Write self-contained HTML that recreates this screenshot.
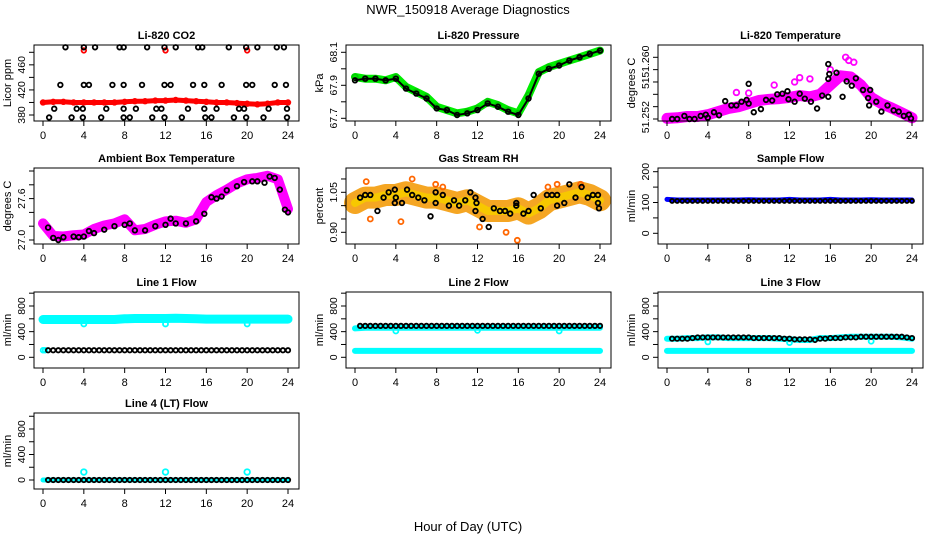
<!DOCTYPE html>
<html><head><meta charset="utf-8">
<style>
html,body{margin:0;padding:0;background:#fff;}
svg{display:block;font-family:"Liberation Sans",sans-serif;}
</style></head>
<body>
<svg id="chart" width="936" height="540" viewBox="0 0 936 540" xmlns="http://www.w3.org/2000/svg">
<rect width="936" height="540" fill="#fff"/>
<text x="468" y="14" text-anchor="middle" font-size="13">NWR_150918  Average Diagnostics</text>
<text x="468" y="531" text-anchor="middle" font-size="13">Hour of Day (UTC)</text>
</svg>
<script>
// ---------- data ----------
const hours = [0,1,2,3,4,5,6,7,8,9,10,11,12,13,14,15,16,17,18,19,20,21,22,23,24];
const halfHours = [0.5,1,1.5,2,2.5,3,3.5,4,4.5,5,5.5,6,6.5,7,7.5,8,8.5,9,9.5,10,10.5,11,11.5,12,12.5,13,13.5,14,14.5,15,15.5,16,16.5,17,17.5,18,18.5,19,19.5,20,20.5,21,21.5,22,22.5,23,23.5,24];
const xTicks = [0,4,8,12,16,20,24];

// CO2
const co2BlackT = [2.2,4,5.1,7.5,7.9,10.2,11.9,13,15.2,15.6,18.2,19.9,21,22.9,23.6, 1.7,4,4.5,6.8,7.9,9.7,11.9,12.5,14.7,15.8,17.5,19.9,20.5,22.7,23.8, 1.1,3.3,3.9,6.2,7.9,9.1,11.1,11.6,14.2,15.8,17,19.2,19.7,22.1,23.9, 0.6,2.8,3.9,5.7,7.9,8.5,10.7,11.9,13.6,15.9,16.5,18.7,19.9,21.6,23.9];
const co2BlackV = [488,488,488,488,488,488,488,488,488,488,488,488,488,488,488, 428,428,428,428,428,428,428,428,428,428,428,428,428,428,428, 390,390,390,390,390,390,390,390,390,390,390,390,390,390,390, 376,376,376,376,376,376,376,376,376,376,376,376,376,376,376];
const co2Red = [400,401,401,400,400,400,400,400,401,402,402,403,403,404,403,402,401,400,400,399,398,397,398,400,400];
const co2RedOutT = [4,12,20];
const co2RedOutV = [483,483,483];

// Pressure
const presBlack = [67.93,67.94,67.94,67.93,67.94,67.88,67.85,67.82,67.76,67.75,67.72,67.73,67.75,67.79,67.77,67.74,67.72,67.82,67.97,68.00,68.02,68.05,68.07,68.09,68.11];
const presGreen = [67.95,67.94,67.94,67.93,67.95,67.89,67.86,67.83,67.77,67.75,67.73,67.74,67.76,67.80,67.78,67.75,67.73,67.84,67.98,68.01,68.03,68.05,68.07,68.09,68.11];

// Li-820 temperature
const tempBlackT = [0.5,1,1.7,2.2,2.7,3.3,3.8,4,4.6,5.1,5.7,6.3,6.8,7.3,7.8,8,8,8.5,9.2,9.7,10.3,10.8,11.3,11.8,11.9,12.5,13,13.5,14.1,14.7,15.2,15.8,15.8,15.8,15.9,16.6,17.2,17.6,18.1,18.5,19.2,19.7,19.8,19.9,20.5,21,21.6,22.2,22.7,23.2,23.7,23.9];
const tempBlackV = [51.2520,51.2520,51.2525,51.2520,51.2520,51.2525,51.2527,51.2522,51.2531,51.2526,51.2549,51.2542,51.2542,51.2548,51.2551,51.2577,51.2545,51.2531,51.2536,51.2551,51.2550,51.2560,51.2561,51.2565,51.2552,51.2548,51.2561,51.2553,51.2548,51.2537,51.2558,51.2556,51.2609,51.2585,51.2593,51.2595,51.2556,51.2581,51.2574,51.2586,51.2567,51.2554,51.2542,51.2567,51.2548,51.2532,51.2542,51.2534,51.2532,51.2525,51.2527,51.2521];
const tempMag = [51.2521,51.2522,51.2524,51.2524,51.2527,51.2532,51.2537,51.2540,51.2545,51.2550,51.2552,51.2553,51.2555,51.2558,51.2556,51.2560,51.2575,51.2590,51.2588,51.2575,51.2555,51.2545,51.2538,51.2530,51.2522];
const tempMagOutT = [6.8,8,13,14,16,17.5,17.8,18.3,12.5,10.5];
const tempMagOutV = [51.2563,51.2562,51.2587,51.2585,51.2600,51.2620,51.2615,51.2612,51.2580,51.2575];

// Ambient box temperature
const ambT = [0.5,1,1.5,2,3,3.5,4,4.5,5,6,7,8,8.5,9,10,11,12,12.5,13,14,15,15.8,16.5,17,17.5,18,19,19.7,20.5,21,21.7,22.2,22.7,23.2,23.7,24];
const ambBlack = [27.18,27.03,27.00,27.04,27.05,27.04,27.05,27.13,27.10,27.15,27.20,27.22,27.24,27.14,27.14,27.20,27.22,27.31,27.24,27.24,27.27,27.38,27.62,27.60,27.63,27.72,27.78,27.84,27.85,27.85,27.83,27.92,27.90,27.73,27.44,27.40];
const ambMag = [27.24,27.06,27.05,27.07,27.08,27.16,27.21,27.24,27.30,27.14,27.16,27.22,27.27,27.28,27.25,27.30,27.55,27.65,27.73,27.82,27.88,27.90,27.93,27.88,27.45];

// Gas stream RH
const rhBlackT = [0.5,1,1.5,2.2,2.8,3.3,3.9,3.9,4,4.6,5.1,5.6,6.2,6.8,7.4,7.9,7.9,8.6,9.2,9.7,10.2,10.8,11.3,11.8,11.8,11.9,12.5,13.1,13.6,14.2,14.7,15.2,15.8,15.8,16.5,17,17.5,18.2,18.8,19.3,19.8,19.8,20.5,21,21.6,22.2,22.8,23.3,23.8,23.8,23.9];
const rhBlackV = [1.03,1.04,1.04,0.98,1.03,1.05,1.06,1.01,1.03,1.01,1.06,1.04,1.03,1.02,0.96,1.05,1.01,1.04,1.00,1.02,1.00,1.02,1.05,1.03,0.98,1.01,0.95,0.92,0.99,0.98,0.98,0.97,1.01,1.00,0.97,0.98,1.04,0.99,1.04,1.04,1.04,1.00,1.01,1.08,1.03,1.07,1.03,1.04,1.04,1.01,0.99];
const rhCloud = [1.01,1.03,1.03,1.04,1.04,1.05,1.04,1.03,1.03,1.02,1.01,1.02,1.00,0.98,0.98,0.98,0.99,0.97,0.99,1.02,1.03,1.04,1.05,1.04,1.02];
const rhOutT = [1.1,5.6,7.9,8.6,4.5,1.5,15.9,14.8,18.9,19.8,12.2,22.1];
const rhOutV = [1.09,1.10,1.08,1.07,0.94,0.95,0.87,0.90,1.07,1.08,0.92,1.08];

// Sample flow
const sampleBlack = [105,105,105,105,105,105,105,105,105,105,105,105,105,105,105,105,105,105,105,105,105,105,105,105,105,105,105,105,105,105,105,105,105,105,105,105,105,105,105,105,105,105,105,105,105,105,105,105];
const sampleBlue = [110,108,108,108,108,108,108,108,109,108,108,108,110,108,108,108,110,108,108,108,109,108,108,108,108];

// Line flows
const line1Black = [110,110,110,110,110,110,110,110,110,110,110,110,110,110,110,110,110,110,110,110,110,110,110,110,110,110,110,110,110,110,110,110,110,110,110,110,110,110,110,110,110,110,110,110,110,110,110,110];
const line1Cyan = [590,590,590,590,590,590,590,590,600,605,605,605,605,610,605,600,595,595,595,595,595,595,595,595,595];
const line1CyanLow = [110];
const line2Black = [490,490,490,490,490,490,490,490,490,490,490,490,490,490,490,490,490,490,490,490,490,490,490,490,490,490,490,490,490,490,490,490,490,490,490,490,490,490,490,490,490,490,490,490,490,490,490,490];
const line2Cyan = [450,460,460,460,460,460,460,460,460,460,460,460,460,460,460,460,460,460,460,460,460,460,460,460,460];
const line2CyanLow = [100,100,100,100,100,100,100,100,100,100,100,100,100,100,100,100,100,100,100,100,100,100,100,100,100];
const line3Black = [290,290,290,290,300,310,310,310,310,310,310,310,310,310,310,310,300,300,300,300,300,300,290,290,280,280,280,280,270,290,290,300,300,300,310,310,310,320,320,320,320,320,320,320,320,320,310,300];
const line3Cyan = [290,290,300,300,310,310,300,300,300,300,300,290,280,270,270,300,300,310,320,320,320,320,320,310,290];
const line3CyanLow = [100,100,100,100,100,100,100,100,100,100,100,100,100,100,100,100,100,100,100,100,100,100,100,100,100];
const line4Black = [0,0,0,0,0,0,0,0,0,0,0,0,0,0,0,0,0,0,0,0,0,0,0,0,0,0,0,0,0,0,0,0,0,0,0,0,0,0,0,0,0,0,0,0,0,0,0,0];
const line4Cyan = [0,0,0,0,0,0,0,0,0,0,0,0,0,0,0,0,0,0,0,0,0,0,0,0,0];
const cyanOutT = [4,12,20];
const line1OutV = [520,520,520];
const line2OutV = [410,420,410];
const line3OutV = [240,230,250];
const line4OutV = [125,125,125];

// ---------- drawing ----------
const NS = "http://www.w3.org/2000/svg";
const svg = document.getElementById('chart');
function mk(tag, attrs, parent){ const e=document.createElementNS(NS,tag); for(const k in attrs) e.setAttribute(k,attrs[k]); (parent||svg).appendChild(e); return e; }

const colX = [34,346,658], rowY = [45,168,292,413], BW = 265, BH = 76;

function panel(name, col, row, title, ytitle, ref, ticks, labels){
  const x0 = colX[col], y0 = rowY[row];
  const g = mk('g',{});
  
  
  const X = t => x0 + 9 + t*245/24;
  const Y = v => y0 + ref[1] + (v-ref[0])*(ref[3]-ref[1])/(ref[2]-ref[0]);
  const tt = mk('text',{x:x0+BW/2,y:y0-6,'text-anchor':'middle','font-size':11,'font-weight':'bold'},g);
  tt.textContent = title;
  
  
  const plot = mk('g',{},g);
  
  
  const xa = mk('g',{},g);
  
  
  mk('line',{x1:X(0),x2:X(24),y1:y0+BH,y2:y0+BH,stroke:'#000','stroke-width':1},xa);
  xTicks.forEach(t=>{
    mk('line',{x1:X(t),x2:X(t),y1:y0+BH,y2:y0+BH+5,stroke:'#000'},xa);
    const l = mk('text',{x:X(t),y:y0+BH+18,'text-anchor':'middle','font-size':11},xa);
    l.textContent = t;
    
    
  });
  const ya = mk('g',{},g);
  
  
  mk('line',{x1:x0,x2:x0,y1:Y(ticks[0]),y2:Y(ticks[ticks.length-1]),stroke:'#000'},ya);
  ticks.forEach(v=> mk('line',{x1:x0-5,x2:x0,y1:Y(v),y2:Y(v),stroke:'#000'},ya));
  labels.forEach(([v,s])=>{
    const yy = Y(v);
    const l = mk('text',{x:x0-9,y:yy,'text-anchor':'middle','font-size':10.5,transform:`rotate(-90 ${x0-9} ${yy})`},ya);
    l.textContent = s;
    
    
  });
  const yt = mk('text',{x:x0-23,y:y0+BH/2,'text-anchor':'middle','font-size':11,transform:`rotate(-90 ${x0-23} ${y0+BH/2})`},g);
  yt.textContent = ytitle;
  
  
  mk('rect',{x:x0,y:y0,width:BW,height:BH,fill:'none',stroke:'#000','stroke-width':1},g);
  return {X,Y,plot};
}
function band(p, ts, vs, color, w){
  const pts = ts.map((t,i)=>p.X(t).toFixed(1)+','+p.Y(vs[i]).toFixed(1)).join(' ');
  const pl = mk('polyline',{points:pts,fill:'none',stroke:color,'stroke-width':w,'stroke-linejoin':'round','stroke-linecap':'round'},p.plot);
  
  
}
function pts(p, ts, vs, color, r){
  ts.forEach((t,i)=>{
    const c = mk('circle',{cx:p.X(t),cy:p.Y(vs[i]),r:r||2.3,fill:'none',stroke:color,'stroke-width':1.8},p.plot);
    
    
  });
}

// Row 1
let p = panel('co2',0,0,'Li-820 CO2','Licor ppm',[380,70,480,7.3],[380,400,420,440,460,480],[[380,'380'],[420,'420'],[460,'460']]);
band(p,hours,co2Red,'#ff0000',5); pts(p,hours,co2Red,'#ff0000');
pts(p,co2RedOutT,co2RedOutV,'#ff0000'); pts(p,co2BlackT,co2BlackV,'#000');

p = panel('pressure',1,0,'Li-820 Pressure','kPa',[67.7,73.3,68.1,7.3],[67.7,67.8,67.9,68.0,68.1],[[67.7,'67.7'],[67.9,'67.9'],[68.1,'68.1']]);
band(p,hours,presGreen,'#00ee00',8); pts(p,hours,presGreen,'#00cc00',2.8);
band(p,hours,presBlack,'#000',2); pts(p,hours,presBlack,'#000');

p = panel('li820-temperature',2,0,'Li-820 Temperature','degrees C',[51.252,74,51.262,12.3],[51.252,51.254,51.256,51.258,51.260,51.262],[[51.2523,'51.252'],[51.2578,'51'],[51.2613,'51.260']]);
band(p,hours,tempMag,'#ff00ff',11); pts(p,hours,tempMag,'#ff00ff',2.8);
pts(p,tempMagOutT,tempMagOutV,'#ff00ff',2.8); pts(p,tempBlackT,tempBlackV,'#000');

// Row 2
p = panel('ambient-box-temperature',0,1,'Ambient Box Temperature','degrees C',[27.0,72,28.0,3],[27.0,27.2,27.4,27.6,27.8,28.0],[[27.0,'27.0'],[27.6,'27.6']]);
band(p,hours,ambMag,'#ff00ff',10); pts(p,ambT,ambBlack,'#000');

p = panel('gas-stream-rh',1,1,'Gas Stream RH','percent',[0.90,64.3,1.05,24.3],[0.90,0.95,1.00,1.05,1.10],[[0.90,'0.90'],[1.05,'1.05']]);
band(p,hours,rhCloud,'#f5a623',22); band(p,hours,rhCloud,'#f7c800',8);
pts(p,rhOutT,rhOutV,'#ff6600',2.5); pts(p,rhBlackT,rhBlackV,'#000');

p = panel('sample-flow',2,1,'Sample Flow','ml/min',[0,65.3,200,3.7],[0,50,100,150,200],[[0,'0'],[100,'100'],[200,'200']]);
band(p,hours,sampleBlue,'#0000ff',5); pts(p,halfHours,sampleBlack,'#000',2);

// Row 3
const fTicks=[0,200,400,600,800,1000], fLabels=[[0,'0'],[400,'400'],[800,'800']];
p = panel('line1-flow',0,2,'Line 1 Flow','ml/min',[0,65.3,800,14],fTicks,fLabels);
band(p,hours,line1Cyan,'#00ffff',9); pts(p,cyanOutT,line1OutV,'#00ffff',2.5);
pts(p,[0,0.2],[line1CyanLow[0],line1CyanLow[0]],'#00ffff'); pts(p,halfHours,line1Black,'#000',2.2);

p = panel('line2-flow',1,2,'Line 2 Flow','ml/min',[0,65.3,800,14],fTicks,fLabels);
band(p,hours,line2CyanLow,'#00ffff',6); band(p,hours,line2Cyan,'#00ffff',6);
pts(p,cyanOutT,line2OutV,'#00ffff',2.5); pts(p,halfHours,line2Black,'#000',2.2);

p = panel('line3-flow',2,2,'Line 3 Flow','ml/min',[0,65.3,800,14],fTicks,fLabels);
band(p,hours,line3CyanLow,'#00ffff',6); band(p,hours,line3Cyan,'#00ffff',6);
pts(p,cyanOutT,line3OutV,'#00ffff',2.5); pts(p,halfHours,line3Black,'#000',2.2);

// Row 4
p = panel('line4-flow',0,3,'Line 4 (LT) Flow','ml/min',[0,67,800,16],fTicks,fLabels);
band(p,hours,line4Cyan,'#00ffff',5); pts(p,cyanOutT,line4OutV,'#00ffff',2.8);
pts(p,halfHours,line4Black,'#000',2.2);
</script>
</body></html>
